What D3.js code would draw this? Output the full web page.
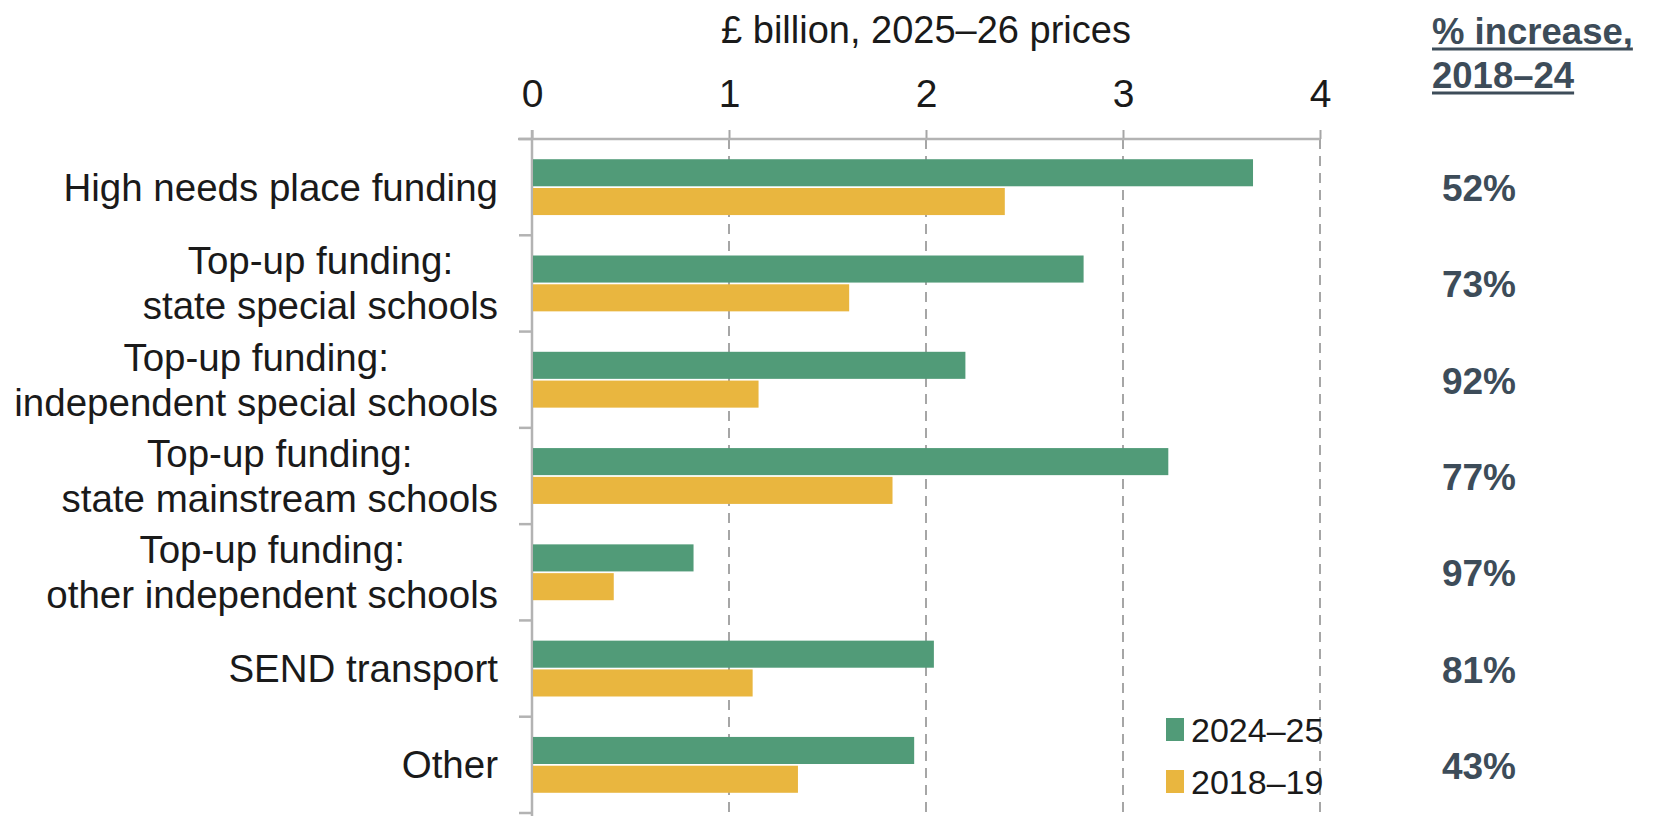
<!DOCTYPE html>
<html>
<head>
<meta charset="utf-8">
<script src="https://cdn.jsdelivr.net/npm/d3@7"></script>
<style>
  body { margin: 0; background: #fff; }
  text { font-family: "Liberation Sans", Arial, sans-serif; }
</style>
</head>
<body>
<div class="chart"></div>
<script>
// Chart data
var categories = [
  "High needs place funding",
  "Top-up funding:\nstate special schools",
  "Top-up funding:\nindependent special schools",
  "Top-up funding:\nstate mainstream schools",
  "Top-up funding:\nother independent schools",
  "SEND transport",
  "Other"
];
var seriesNames = ["2024\u201325", "2018\u201319"];
var values2024 = [3.66, 2.80, 2.20, 3.23, 0.82, 2.04, 1.94];
var values2018 = [2.40, 1.61, 1.15, 1.83, 0.415, 1.12, 1.35];
var pctIncrease = ["52%", "73%", "92%", "77%", "97%", "81%", "43%"];
var xTicks = [0, 1, 2, 3, 4];
var axisTitle = "\u00a3 billion, 2025\u201326 prices";
var pctHeader = ["% increase,", "2018\u201324"];

var colors = ["#519b78", "#e9b63f"];

var svg_width = 1661;
var svg_height = 816;

var svg = d3.select(".chart").append("svg")
  .attr("width", svg_width)
  .attr("height", svg_height);

// Scales
var x = d3.scaleLinear().domain([0, 4]).range([532, 1320]);
var y = d3.scaleBand().domain(d3.range(categories.length))
  .range([139, 813]).paddingInner(0.42).paddingOuter(0.21);
var ySub = d3.scaleBand().domain([0, 1]).range([0, y.bandwidth()]).paddingInner(0.06);
var step = y.step();

// Dashed gridlines
svg.selectAll("line.grid")
  .data(xTicks.slice(1))
  .enter()
  .append("line")
  .attr("class", "grid")
  .attr("x1", function(d) { return x(d); })
  .attr("x2", function(d) { return x(d); })
  .attr("y1", 139)
  .attr("y2", svg_height)
  .attr("stroke", "#a6a6a6")
  .attr("stroke-width", 2)
  .attr("stroke-dasharray", "10,7");

// Top axis
var xAxis = d3.axisTop(x).tickValues(xTicks).tickSize(9).tickPadding(23)
  .tickFormat(d3.format("d"));
var gx = svg.append("g").attr("transform", "translate(0,139)").call(xAxis);
gx.select(".domain").remove();
gx.selectAll(".tick line").attr("stroke", "#a6a6a6").attr("stroke-width", 2);
gx.selectAll(".tick text")
  .attr("font-size", "39px")
  .attr("fill", "#1a1a1a")
  .attr("font-family", "Liberation Sans, Arial, sans-serif");
svg.append("line")
  .attr("x1", 518).attr("x2", x(4))
  .attr("y1", 139).attr("y2", 139)
  .attr("stroke", "#b3b3b3").attr("stroke-width", 2.5);

// Left category axis
svg.append("line")
  .attr("x1", x(0)).attr("x2", x(0))
  .attr("y1", 130).attr("y2", svg_height)
  .attr("stroke", "#b3b3b3").attr("stroke-width", 2.5);
svg.selectAll("line.ctick")
  .data(d3.range(categories.length + 1))
  .enter()
  .append("line")
  .attr("class", "ctick")
  .attr("x1", x(0) - 13).attr("x2", x(0))
  .attr("y1", function(d) { return 139 + d * step; })
  .attr("y2", function(d) { return 139 + d * step; })
  .attr("stroke", "#b3b3b3").attr("stroke-width", 2.5);

// Bars
var series = [values2024, values2018];
series.forEach(function(vals, s) {
  svg.selectAll("rect.s" + s)
    .data(vals)
    .enter()
    .append("rect")
    .attr("class", "s" + s)
    .attr("x", x(0) + 1)
    .attr("y", function(d, i) { return y(i) + ySub(s); })
    .attr("width", function(d) { return x(d) - x(0) - 1; })
    .attr("height", ySub.bandwidth())
    .attr("fill", colors[s]);
});

// Axis title
svg.append("text")
  .attr("x", (x(0) + x(4)) / 2)
  .attr("y", 43)
  .attr("text-anchor", "middle")
  .attr("font-size", "38px")
  .attr("fill", "#1a1a1a")
  .text(axisTitle);

// Category labels (lines centred on each other, block right-aligned)
var labelRight = 498;
var lineGap = 45;
categories.forEach(function(c, i) {
  var lines = c.split("\n");
  var cy = y(i) + y.bandwidth() / 2;
  var g = svg.append("g");
  var texts = g.selectAll("text")
    .data(lines)
    .enter()
    .append("text")
    .attr("font-size", "38.5px")
    .attr("fill", "#1a1a1a")
    .attr("text-anchor", "middle")
    .attr("dy", "0.35em")
    .attr("y", function(d, j) { return cy + (j - (lines.length - 1) / 2) * lineGap; })
    .text(function(d) { return d; });
  var maxW = 0;
  texts.each(function() { maxW = Math.max(maxW, this.getComputedTextLength()); });
  texts.attr("x", labelRight - maxW / 2);
});

// % increase column
var pctColor = "#3d4c59";
pctHeader.forEach(function(h, j) {
  var t = svg.append("text")
    .attr("x", 1432)
    .attr("y", 44 + j * 44)
    .attr("font-size", "36.5px")
    .attr("font-weight", "bold")
    .attr("fill", pctColor)
    .text(h);
  var w = t.node().getComputedTextLength();
  svg.append("line")
    .attr("x1", 1432).attr("x2", 1432 + w)
    .attr("y1", 49 + j * 44).attr("y2", 49 + j * 44)
    .attr("stroke", pctColor).attr("stroke-width", 3);
});
svg.selectAll("text.pct")
  .data(pctIncrease)
  .enter()
  .append("text")
  .attr("class", "pct")
  .attr("x", 1479)
  .attr("y", function(d, i) { return y(i) + y.bandwidth() / 2 + 1; })
  .attr("dy", "0.35em")
  .attr("text-anchor", "middle")
  .attr("font-size", "37px")
  .attr("font-weight", "bold")
  .attr("fill", pctColor)
  .text(function(d) { return d; });

// Legend
var legend = svg.selectAll("g.legend")
  .data(seriesNames)
  .enter()
  .append("g")
  .attr("class", "legend")
  .attr("transform", function(d, i) { return "translate(1166," + (718 + i * 52) + ")"; });
legend.append("rect")
  .attr("width", 18).attr("height", 23)
  .attr("fill", function(d, i) { return colors[i]; });
legend.append("text")
  .attr("x", 25).attr("y", 12).attr("dy", "0.35em")
  .attr("font-size", "34px")
  .attr("fill", "#1a1a1a")
  .text(function(d) { return d; });
</script>
</body>
</html>
